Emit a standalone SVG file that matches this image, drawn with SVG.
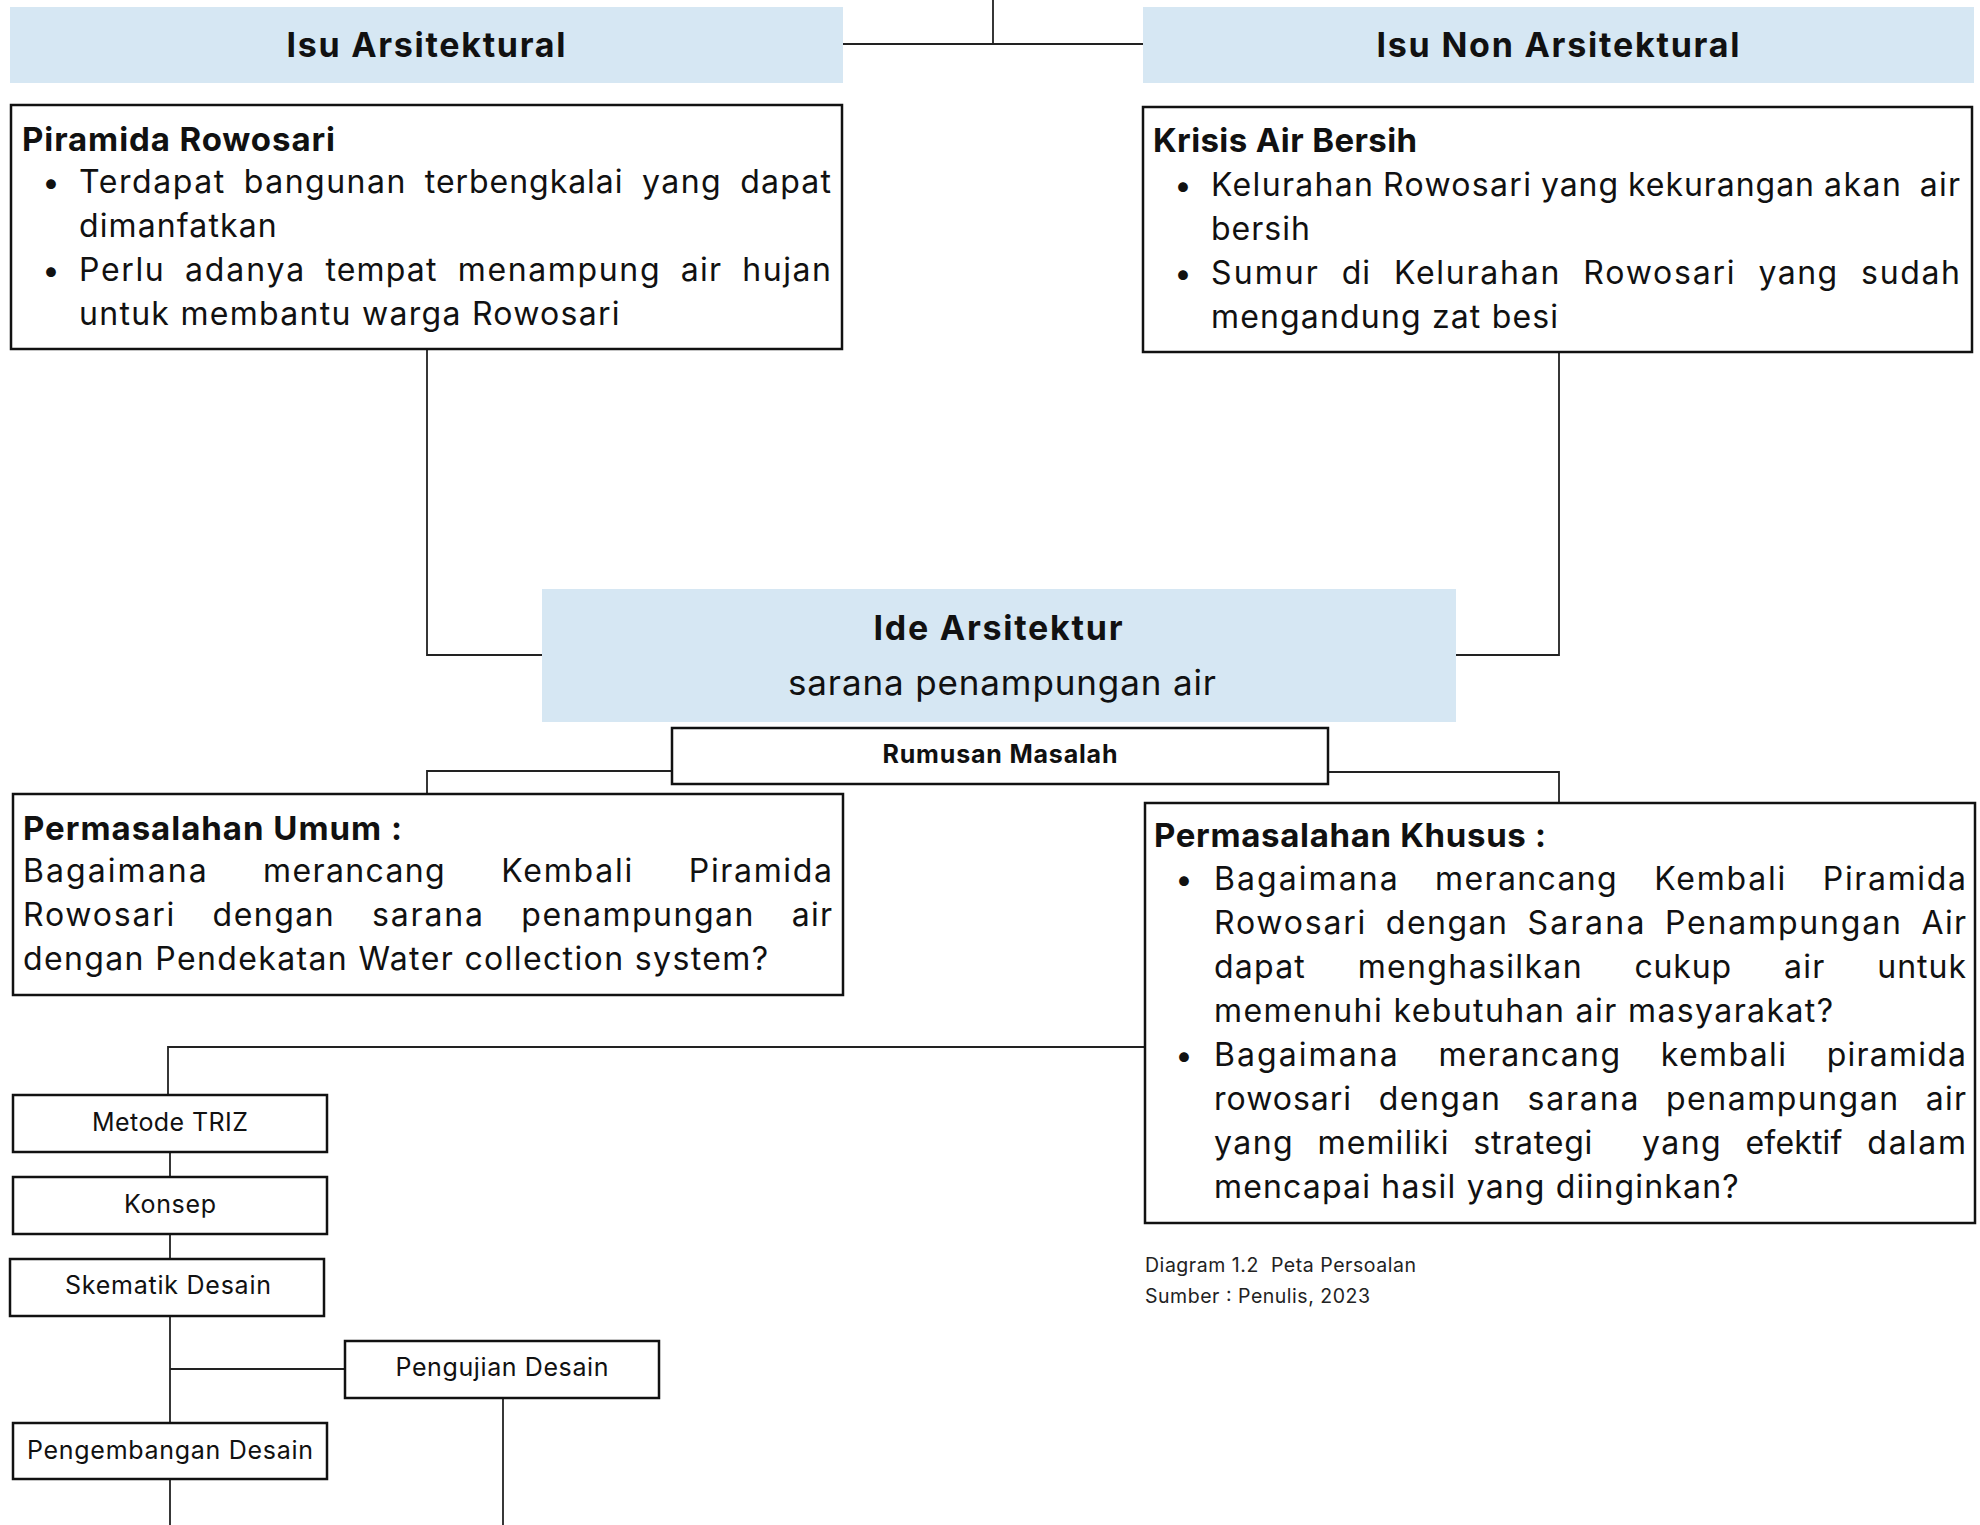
<svg xmlns="http://www.w3.org/2000/svg" width="1980" height="1525" viewBox="0 0 1980 1525">
<style>
text{font-family:Inter,"Open Sans","Noto Sans",sans-serif;fill:#111}
.hd{font-size:34px;font-weight:700;text-anchor:middle}
.tt{font-size:33px;font-weight:700}
.w{font-size:32px}
.bl{font-size:31px;text-anchor:middle}
.pl{font-size:25px;text-anchor:middle}
.cap{font-size:19.5px;fill:#222}
.blue{fill:#D6E7F3;stroke:none}
.box{fill:#fff;stroke:#111;stroke-width:2.5}
.con{fill:none;stroke:#222;stroke-width:1.8}
</style>
<rect width="1980" height="1525" fill="#fff"/>
<g id="connectors" class="con">
<path d="M993 0V44M843 44H1143"/>
<path d="M427 350V655H542"/>
<path d="M1559 352V655H1456"/>
<path d="M672 771H427V794"/>
<path d="M1328 772H1559V803"/>
<path d="M1145 1047H168V1095"/>
<path d="M170 1152V1177"/>
<path d="M170 1234V1259"/>
<path d="M170 1316V1423"/>
<path d="M170 1369H346"/>
<path d="M503 1398V1525"/>
<path d="M170 1479V1525"/>
</g>
<g id="isu-arsitektural">
<rect class="blue" x="10" y="7" width="833" height="76"/>
<text class="hd" x="426" y="57" textLength="279">Isu Arsitektural</text>
</g>
<g id="isu-non-arsitektural">
<rect class="blue" x="1143" y="7" width="831" height="76"/>
<text class="hd" x="1558" y="57" textLength="363">Isu Non Arsitektural</text>
</g>
<g id="piramida-rowosari">
<rect class="box" x="11" y="105" width="831" height="244"/>
<text class="tt" x="22" y="151" textLength="313">Piramida Rowosari</text>
<text class="bl" x="51" y="193">•</text>
<text class="w" x="79" y="193" textLength="145.3">Terdapat</text>
<text class="w" x="243.8" y="193" textLength="161.5">bangunan</text>
<text class="w" x="424.8" y="193" textLength="197.7">terbengkalai</text>
<text class="w" x="642" y="193" textLength="78.7">yang</text>
<text class="w" x="740.2" y="193" textLength="90.8">dapat</text>
<text class="w" x="79" y="237" textLength="197.7">dimanfatkan</text>
<text class="bl" x="51" y="281">•</text>
<text class="w" x="79" y="281" textLength="84.7">Perlu</text>
<text class="w" x="185" y="281" textLength="119.1">adanya</text>
<text class="w" x="325.4" y="281" textLength="111">tempat</text>
<text class="w" x="457.7" y="281" textLength="201.8">menampung</text>
<text class="w" x="680.8" y="281" textLength="40.3">air</text>
<text class="w" x="742.2" y="281" textLength="88.8">hujan</text>
<text class="w" x="79" y="325" textLength="540.6">untuk membantu warga Rowosari</text>
</g>
<g id="krisis-air-bersih">
<rect class="box" x="1143" y="107" width="829" height="245"/>
<text class="tt" x="1153" y="152" textLength="264">Krisis Air Bersih</text>
<text class="bl" x="1183" y="196">•</text>
<text class="w" x="1211" y="196" textLength="162">Kelurahan</text>
<text class="w" x="1383" y="196" textLength="148">Rowosari</text>
<text class="w" x="1541" y="196" textLength="77">yang</text>
<text class="w" x="1628" y="196" textLength="186">kekurangan</text>
<text class="w" x="1824" y="196" textLength="77">akan</text>
<text class="w" x="1919.7" y="196" textLength="40.3">air</text>
<text class="w" x="1211" y="240" textLength="98.8">bersih</text>
<text class="bl" x="1183" y="284">•</text>
<text class="w" x="1211" y="284" textLength="106.9">Sumur</text>
<text class="w" x="1341.8" y="284" textLength="28.2">di</text>
<text class="w" x="1393.9" y="284" textLength="165.5">Kelurahan</text>
<text class="w" x="1583.3" y="284" textLength="151.3">Rowosari</text>
<text class="w" x="1758.5" y="284" textLength="78.7">yang</text>
<text class="w" x="1861.1" y="284" textLength="98.9">sudah</text>
<text class="w" x="1211" y="328" textLength="347">mengandung zat besi</text>
</g>
<g id="ide-arsitektur">
<rect class="blue" x="542" y="589" width="914" height="133"/>
<text class="hd" x="998" y="640" textLength="249">Ide Arsitektur</text>
<text x="1002" y="695" font-size="35" text-anchor="middle" textLength="428">sarana penampungan air</text>
</g>
<g id="rumusan-masalah">
<rect class="box" x="672" y="728" width="656" height="56"/>
<text x="1000" y="763" font-size="25" font-weight="700" text-anchor="middle" textLength="235">Rumusan Masalah</text>
</g>
<g id="permasalahan-umum">
<rect class="box" x="13" y="794" width="830" height="201"/>
<text class="tt" x="23" y="840" textLength="379">Permasalahan Umum :</text>
<text class="w" x="23" y="882" textLength="183.6">Bagaimana</text>
<text class="w" x="263.1" y="882" textLength="181.6">merancang</text>
<text class="w" x="501.2" y="882" textLength="131.1">Kembali</text>
<text class="w" x="688.8" y="882" textLength="143.2">Piramida</text>
<text class="w" x="23" y="926" textLength="151.3">Rowosari</text>
<text class="w" x="212.6" y="926" textLength="121.1">dengan</text>
<text class="w" x="372" y="926" textLength="111">sarana</text>
<text class="w" x="521.3" y="926" textLength="232.1">penampungan</text>
<text class="w" x="791.7" y="926" textLength="40.3">air</text>
<text class="w" x="23" y="970" textLength="745">dengan Pendekatan Water collection system?</text>
</g>
<g id="permasalahan-khusus">
<rect class="box" x="1145" y="803" width="830" height="420"/>
<text class="tt" x="1154" y="847" textLength="392">Permasalahan Khusus :</text>
<text class="bl" x="1184" y="890">•</text>
<text class="w" x="1214" y="890" textLength="183.6">Bagaimana</text>
<text class="w" x="1435.1" y="890" textLength="181.6">merancang</text>
<text class="w" x="1654.2" y="890" textLength="131.1">Kembali</text>
<text class="w" x="1822.8" y="890" textLength="143.2">Piramida</text>
<text class="w" x="1214" y="934" textLength="151.3">Rowosari</text>
<text class="w" x="1385.8" y="934" textLength="121.1">dengan</text>
<text class="w" x="1527.4" y="934" textLength="117">Sarana</text>
<text class="w" x="1664.9" y="934" textLength="236.1">Penampungan</text>
<text class="w" x="1921.6" y="934" textLength="44.4">Air</text>
<text class="w" x="1214" y="978" textLength="90.8">dapat</text>
<text class="w" x="1357.7" y="978" textLength="223.9">menghasilkan</text>
<text class="w" x="1634.4" y="978" textLength="96.8">cukup</text>
<text class="w" x="1784.1" y="978" textLength="40.3">air</text>
<text class="w" x="1877.2" y="978" textLength="88.8">untuk</text>
<text class="w" x="1214" y="1022" textLength="619">memenuhi kebutuhan air masyarakat?</text>
<text class="bl" x="1184" y="1066">•</text>
<text class="w" x="1214" y="1066" textLength="183.6">Bagaimana</text>
<text class="w" x="1438.4" y="1066" textLength="181.6">merancang</text>
<text class="w" x="1660.8" y="1066" textLength="125.1">kembali</text>
<text class="w" x="1826.8" y="1066" textLength="139.2">piramida</text>
<text class="w" x="1214" y="1110" textLength="137.1">rowosari</text>
<text class="w" x="1378.7" y="1110" textLength="121.1">dengan</text>
<text class="w" x="1527.4" y="1110" textLength="111">sarana</text>
<text class="w" x="1666" y="1110" textLength="232.1">penampungan</text>
<text class="w" x="1925.7" y="1110" textLength="40.3">air</text>
<text class="w" x="1214" y="1154" textLength="78.7">yang</text>
<text class="w" x="1317.5" y="1154" textLength="131">memiliki</text>
<text class="w" x="1473.3" y="1154" textLength="119">strategi</text>
<text class="w" x="1642" y="1154" textLength="78.7">yang</text>
<text class="w" x="1745.5" y="1154" textLength="96.8">efektif</text>
<text class="w" x="1867.2" y="1154" textLength="98.8">dalam</text>
<text class="w" x="1214" y="1198" textLength="524.6">mencapai hasil yang diinginkan?</text>
</g>
<g id="metode-triz">
<rect class="box" x="13" y="1095" width="314" height="57"/>
<text class="pl" x="170" y="1131" textLength="156">Metode TRIZ</text>
</g>
<g id="konsep">
<rect class="box" x="13" y="1177" width="314" height="57"/>
<text class="pl" x="170" y="1213" textLength="92">Konsep</text>
</g>
<g id="skematik-desain">
<rect class="box" x="10" y="1259" width="314" height="57"/>
<text class="pl" x="168" y="1294" textLength="206">Skematik Desain</text>
</g>
<g id="pengujian-desain">
<rect class="box" x="345" y="1341" width="314" height="57"/>
<text class="pl" x="502" y="1376" textLength="213">Pengujian Desain</text>
</g>
<g id="pengembangan-desain">
<rect class="box" x="13" y="1423" width="314" height="56"/>
<text class="pl" x="170" y="1459" textLength="286">Pengembangan Desain</text>
</g>
<g id="caption">
<text class="cap" x="1145" y="1272" textLength="271" xml:space="preserve">Diagram 1.2  Peta Persoalan</text>
<text class="cap" x="1145" y="1303" textLength="225">Sumber : Penulis, 2023</text>
</g>
</svg>
